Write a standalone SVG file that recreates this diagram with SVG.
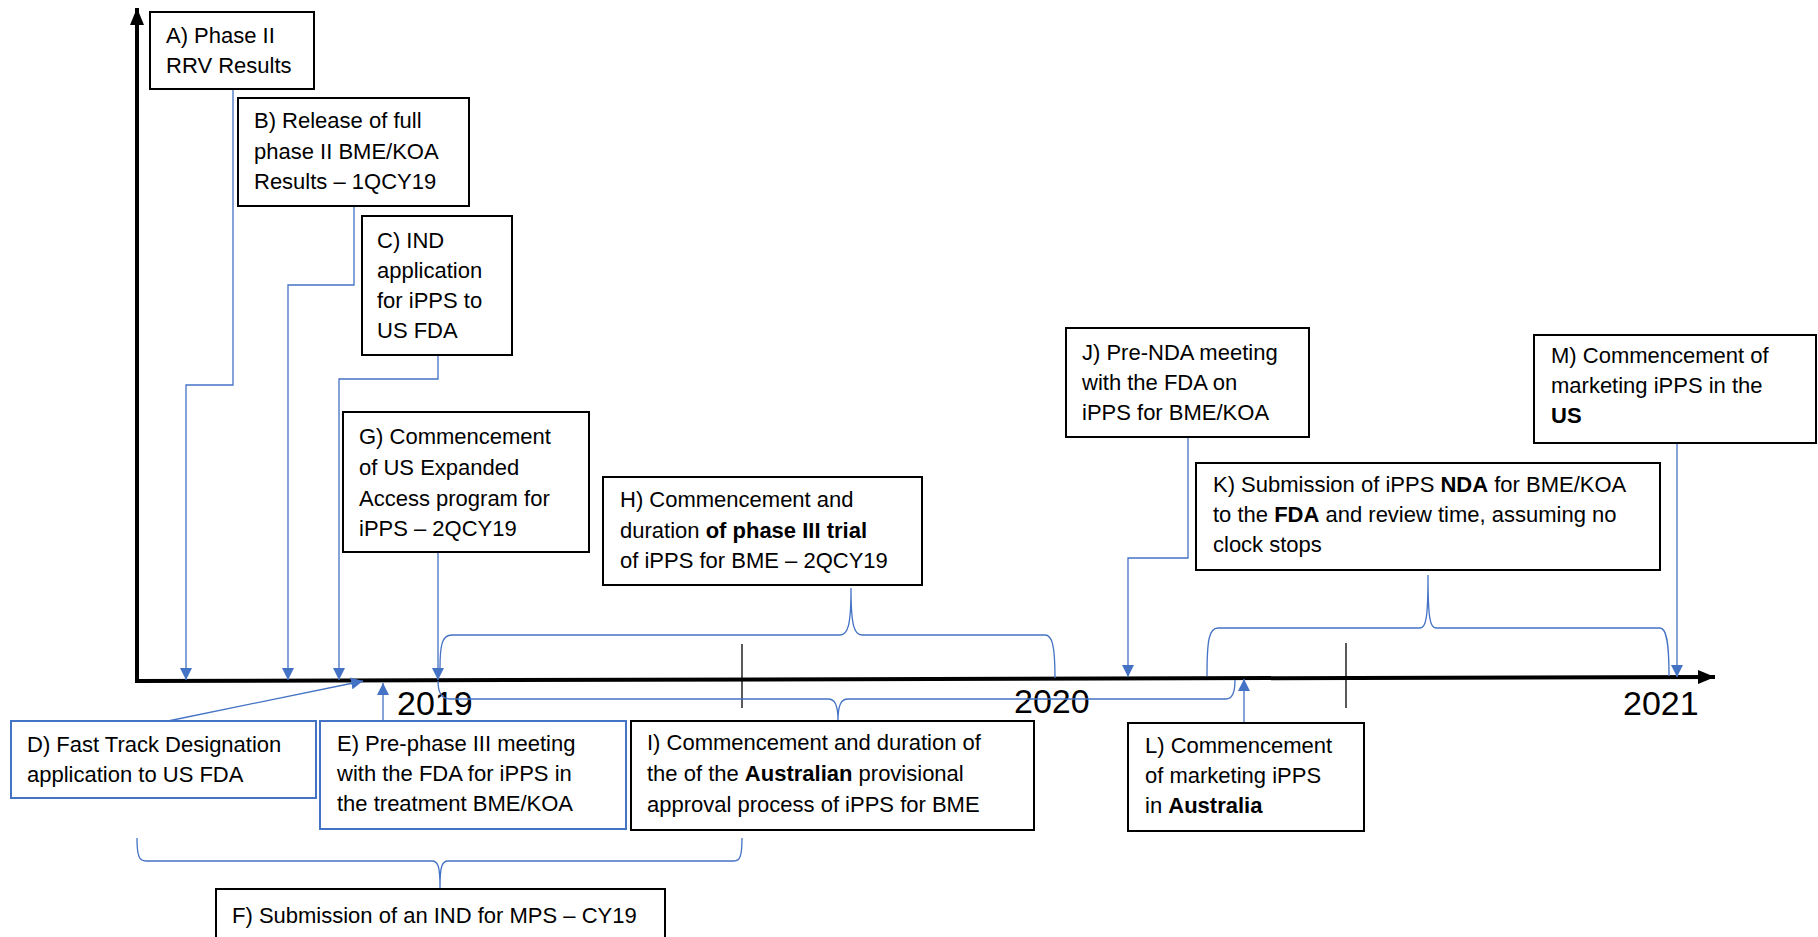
<svg xmlns="http://www.w3.org/2000/svg" width="1818" height="937" viewBox="0 0 1818 937">
<defs>
<style>
.box{fill:#fff;stroke:#000;stroke-width:2}
.bbox{fill:#fff;stroke:#4472C4;stroke-width:2}
.t{font-family:"Liberation Sans",Arial,sans-serif;font-size:22px;fill:#000}
.yr{font-family:"Liberation Sans",Arial,sans-serif;font-size:34px;fill:#000}
.c{fill:none;stroke:#4472C4;stroke-width:1.3}
.ax{fill:none;stroke:#000;stroke-width:4}
.tk{stroke:#000;stroke-width:1.3}
</style>
<marker id="ab" markerWidth="12" markerHeight="12" viewBox="0 0 12 12" refX="12" refY="6" orient="auto" markerUnits="userSpaceOnUse"><path d="M0,0 L12,6 L0,12 z" fill="#4472C4"/></marker>
<marker id="ak" markerWidth="17" markerHeight="14" viewBox="0 0 17 14" refX="17" refY="7" orient="auto" markerUnits="userSpaceOnUse"><path d="M0,0 L17,7 L0,14 z" fill="#000"/></marker>
</defs>
<rect width="1818" height="937" fill="#fff"/>
<g id="axes">
<line class="ax" x1="137" y1="683" x2="137" y2="8" marker-end="url(#ak)"/>
<line class="ax" x1="135" y1="681" x2="1715" y2="677" marker-end="url(#ak)"/>
<line class="tk" x1="742" y1="644" x2="742" y2="708"/>
<line class="tk" x1="1346" y1="643" x2="1346" y2="708"/>
<text class="yr" x="397" y="715">2019</text>
<text class="yr" x="1014" y="713">2020</text>
<text class="yr" x="1623" y="715">2021</text>
</g>
<g id="connectors">
<path class="c" d="M233,89 V385 H186 V680" marker-end="url(#ab)"/>
<path class="c" d="M354,206 V285 H288 V680" marker-end="url(#ab)"/>
<path class="c" d="M438,355 V379 H339 V680" marker-end="url(#ab)"/>
<path class="c" d="M168,721 L363,681" marker-end="url(#ab)"/>
<path class="c" d="M383,721 V683" marker-end="url(#ab)"/>
<path class="c" d="M438,552 V680" marker-end="url(#ab)"/>
<path class="c" d="M1188,437 V558 H1128 V677" marker-end="url(#ab)"/>
<path class="c" d="M1244,723 V679" marker-end="url(#ab)"/>
<path class="c" d="M1677,443 V677" marker-end="url(#ab)"/>
<path class="c" d="M440,668 C440,645 442,635 452,635 H840 C848,635 851,625 851,588 C851,625 854,635 862,635 H1045 C1052,635 1055,645 1055,678"/>
<path class="c" d="M438,681 C438,692 441,699 450,699 H828 C835,699 838,705 838,721 C838,705 841,699 848,699 H1226 C1232,699 1235,692 1235,680"/>
<path class="c" d="M1207,676 C1207,640 1209,628 1218,628 H1420 C1426,628 1428,618 1428,575 C1428,618 1430,628 1436,628 H1660 C1666,628 1669,640 1669,676"/>
<path class="c" d="M137,838 C137,856 139,861 146,861 H432 C438,861 440,866 440,888 C440,866 442,861 448,861 H734 C740,861 742,856 742,838"/>
</g>
<g id="nodeA"><rect class="box" x="150" y="12" width="164" height="77"/>
<text class="t" x="166" y="43">A) Phase II</text><text class="t" x="166" y="73">RRV Results</text></g>
<g id="nodeB"><rect class="box" x="238" y="98" width="231" height="108"/>
<text class="t" x="254" y="128">B) Release of full</text><text class="t" x="254" y="159">phase II BME/KOA</text><text class="t" x="254" y="189">Results – 1QCY19</text></g>
<g id="nodeC"><rect class="box" x="362" y="216" width="150" height="139"/>
<text class="t" x="377" y="248">C) IND</text><text class="t" x="377" y="278">application</text><text class="t" x="377" y="308">for iPPS to</text><text class="t" x="377" y="338">US FDA</text></g>
<g id="nodeD"><rect class="bbox" x="11" y="721" width="305" height="77"/>
<text class="t" x="27" y="752">D) Fast Track Designation</text><text class="t" x="27" y="782">application to US FDA</text></g>
<g id="nodeE"><rect class="bbox" x="320" y="721" width="306" height="108"/>
<text class="t" x="337" y="751">E) Pre-phase III meeting</text><text class="t" x="337" y="781">with the FDA for iPPS in</text><text class="t" x="337" y="811">the treatment BME/KOA</text></g>
<g id="nodeF"><rect class="box" x="216" y="889" width="449" height="60"/>
<text class="t" x="232" y="923">F) Submission of an IND for MPS – CY19</text></g>
<g id="nodeG"><rect class="box" x="343" y="412" width="246" height="140"/>
<text class="t" x="359" y="444">G) Commencement</text><text class="t" x="359" y="475">of US Expanded</text><text class="t" x="359" y="506">Access program for</text><text class="t" x="359" y="536">iPPS – 2QCY19</text></g>
<g id="nodeH"><rect class="box" x="603" y="477" width="319" height="108"/>
<text class="t" x="620" y="507">H) Commencement and</text><text class="t" x="620" y="538">duration <tspan font-weight="bold">of phase III trial</tspan></text><text class="t" x="620" y="568">of iPPS for BME – 2QCY19</text></g>
<g id="nodeI"><rect class="box" x="631" y="721" width="403" height="109"/>
<text class="t" x="647" y="750">I) Commencement and duration of</text><text class="t" x="647" y="781">the of the <tspan font-weight="bold">Australian</tspan> provisional</text><text class="t" x="647" y="812">approval process of iPPS for BME</text></g>
<g id="nodeJ"><rect class="box" x="1066" y="328" width="243" height="109"/>
<text class="t" x="1082" y="360">J) Pre-NDA meeting</text><text class="t" x="1082" y="390">with the FDA on</text><text class="t" x="1082" y="420">iPPS for BME/KOA</text></g>
<g id="nodeK"><rect class="box" x="1196" y="463" width="464" height="107"/>
<text class="t" x="1213" y="492">K) Submission of iPPS <tspan font-weight="bold">NDA</tspan> for BME/KOA</text><text class="t" x="1213" y="522">to the <tspan font-weight="bold">FDA</tspan> and review time, assuming no</text><text class="t" x="1213" y="552">clock stops</text></g>
<g id="nodeL"><rect class="box" x="1128" y="723" width="236" height="108"/>
<text class="t" x="1145" y="753">L) Commencement</text><text class="t" x="1145" y="783">of marketing iPPS</text><text class="t" x="1145" y="813">in <tspan font-weight="bold">Australia</tspan></text></g>
<g id="nodeM"><rect class="box" x="1534" y="335" width="282" height="108"/>
<text class="t" x="1551" y="363">M) Commencement of</text><text class="t" x="1551" y="393">marketing iPPS in the</text><text class="t" x="1551" y="423" font-weight="bold">US</text></g>
</svg>
